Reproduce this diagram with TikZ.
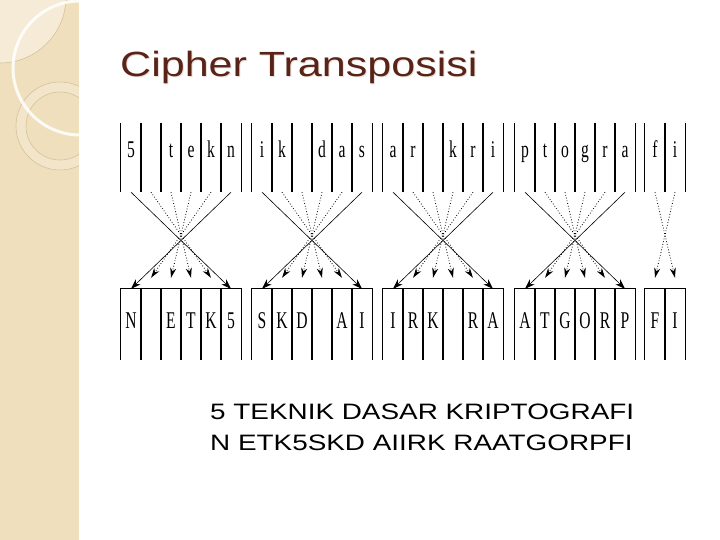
\documentclass[tikz,border=0pt]{standalone}
\usepackage{fontspec}
\setmainfont{Liberation Sans}
\newfontfamily\widesans[FakeStretch=1.23]{Liberation Sans}
\newfontfamily\bodysans[FakeStretch=1.25]{Liberation Sans}
\newfontfamily\cellfont[FakeStretch=0.65]{Liberation Serif}
\usetikzlibrary{arrows.meta,calc}
\definecolor{bandtan}{HTML}{EFDFBC}
\definecolor{bandlight}{HTML}{F5EBD6}
\definecolor{ringline}{HTML}{D5C19B}
\definecolor{titlebrown}{HTML}{5A2317}
\definecolor{titleshade}{HTML}{E6DEDA}

\begin{document}
\begin{tikzpicture}[x=1pt,y=-1pt,
  plaincell/.style={minimum width=20pt,minimum height=69pt,inner sep=0pt,text height=10pt,text depth=10pt,font=\cellfont\fontsize{24}{24}\selectfont},
  ciphercell/.style={minimum width=20pt,minimum height=71pt,inner sep=0pt,text height=15pt,text depth=8pt,font=\cellfont\fontsize{24}{24}\selectfont},
  cellline/.style={black,line width=0.8pt},
  outerarrow/.style={line width=0.6pt,-{Stealth[length=10pt,width=7pt]}},
  innerarrow/.style={line width=0.8pt,dotted,-{Stealth[length=10pt,width=6pt]}},
  slidetext/.style={anchor=base west,inner sep=0pt,font=\bodysans\fontsize{22.3}{26}\selectfont}]
\useasboundingbox (0,0) rectangle (720,540);
% side band
\begin{scope}
\clip (0,0) rectangle (79,540);
\fill[bandtan] (0,0) rectangle (79,540);
\fill[bandlight,draw=ringline,line width=0.6pt] (0,-3) circle (66);
\fill[bandlight,opacity=0.5,even odd rule] (60,126) circle (44) (60,126) circle (34);
\draw[ringline,line width=0.6pt] (60,126) circle (44);
\draw[ringline,line width=0.6pt] (60,126) circle (34);
\draw[white,line width=3pt,opacity=0.85] (80,68) circle (67);
\end{scope}

% title
\node[anchor=base west,inner sep=0pt,text=titleshade,font=\widesans\fontsize{35}{42}\selectfont] (titleshadow) at (121,78) {Cipher Transposisi};
\node[anchor=base west,inner sep=0pt,text=titlebrown,font=\widesans\fontsize{35}{42}\selectfont] (title) at (120,77) {Cipher Transposisi};

% blocks of six letters
\foreach \b/\sx/\plain/\ciph in {1/121/{5,{},t,e,k,n}/{N,{},E,T,K,5},
    2/252/{i,k,{},d,a,s}/{S,K,D,{},A,I},
    3/383/{a,r,{},k,r,i}/{I,R,K,{},R,A},
    4/515/{p,t,o,g,r,a}/{A,T,G,O,R,P},
    5/645/{f,i}/{F,I}}{
  \foreach \p [count=\i] in \plain{
    \node[plaincell] (p-\b-\i) at (\sx+20*\i-10,157.5) {\p};
    \draw[cellline] (p-\b-\i.north west) -- (p-\b-\i.south west) (p-\b-\i.north east) -- (p-\b-\i.south east);
  }
  \foreach \c [count=\i] in \ciph{
    \node[ciphercell] (c-\b-\i) at (\sx+20*\i-10,324.5) {\c};
    \draw[cellline] (c-\b-\i.south west) -- (c-\b-\i.north west) -- (c-\b-\i.north east) -- (c-\b-\i.south east);
  }
}

% transposition arrows
\foreach \b in {1,2,3,4}{
  \draw[outerarrow] (p-\b-1.south) -- (c-\b-6.north);
  \draw[outerarrow] (p-\b-6.south) -- (c-\b-1.north);
  \foreach \i [evaluate=\i as \j using int(7-\i)] in {2,3,4,5}
    \draw[innerarrow] (p-\b-\i.south) -- ($(c-\b-\j.north)+(0,-11)$);
}
\draw[innerarrow] (p-5-1.south) -- ($(c-5-2.north)+(0,-11)$);
\draw[innerarrow] (p-5-2.south) -- ($(c-5-1.north)+(0,-11)$);

% plain and cipher text
\node[slidetext] (plaintext) at (210,419) {5 TEKNIK DASAR KRIPTOGRAFI};
\node[slidetext] (ciphertext) at (210,450) {N ETK5SKD AIIRK RAATGORPFI};
\end{tikzpicture}
\end{document}
